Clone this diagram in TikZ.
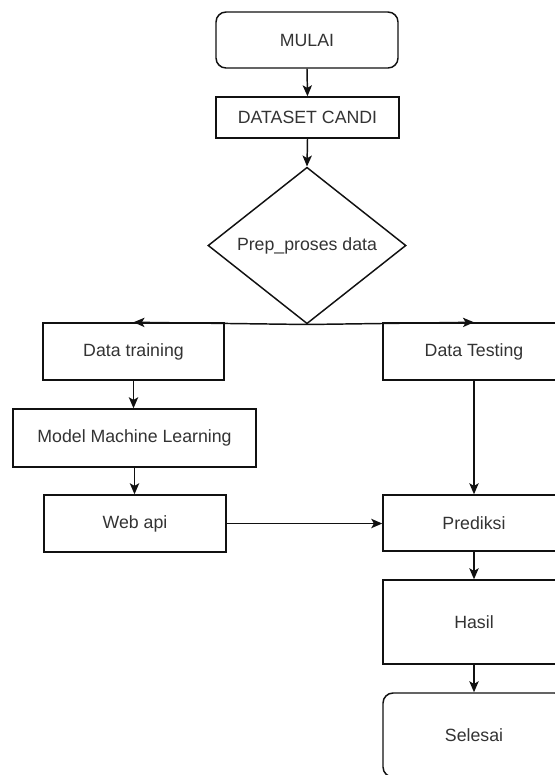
\documentclass[tikz,border=0pt]{standalone}
\usepackage{fontspec}
\setmainfont{Liberation Sans}
\usetikzlibrary{shapes.geometric,arrows.meta}
\definecolor{labelgray}{HTML}{333333}
\definecolor{edgeblack}{HTML}{111111}
\tikzset{
  base/.style={draw=edgeblack, line width=1.1pt, fill=white, text=labelgray,
    font=\fontsize{13.3}{16}\selectfont, inner sep=0pt, align=center},
  procbox/.style={base, rectangle},
  termbox/.style={base, rectangle, rounded corners=7.5pt},
  decbox/.style={base, diamond},
  arr/.style={draw=edgeblack, line width=1.1pt,
    -{Stealth[length=8.25pt, width=7pt, inset=2pt]}},
}
\begin{document}
\begin{tikzpicture}[x=0.75pt, y=-0.75pt]
  % page area, 555 x 775 units
  \fill[white] (0,0) rectangle (555,775);
  \clip (0,0) rectangle (555,775);

  % top of the chart
  \node[termbox, minimum width=136.5pt, minimum height=42pt] (mulai) at (307,40) {MULAI};
  \node[procbox, minimum width=137.25pt, minimum height=30.75pt] (dataset) at (307.5,117.5) {DATASET CANDI};
  \node[decbox, minimum width=148.5pt, minimum height=116.25pt] (prep) at (307,245.5) {Prep\_proses data};

  % left branch
  \node[procbox, minimum width=135.75pt, minimum height=42.75pt] (train) at (133.5,351.5) {Data training};
  \node[procbox, minimum width=182.25pt, minimum height=43.5pt] (model) at (134.5,438) {Model Machine Learning};
  \node[procbox, minimum width=136.5pt, minimum height=42.75pt] (web) at (135,523.5) {Web api};

  % right branch
  \node[procbox, minimum width=136.5pt, minimum height=42.75pt] (test) at (474,351.5) {Data Testing};
  \node[procbox, minimum width=136.5pt, minimum height=42pt] (pred) at (474,523) {Prediksi};
  \node[procbox, minimum width=136.5pt, minimum height=63pt] (hasil) at (474,622) {Hasil};
  \node[termbox, minimum width=136.5pt, minimum height=63pt] (selesai) at (474,735) {Selesai};

  % connectors
  \draw[arr] (mulai.south) -- (dataset.north);
  \draw[arr] (dataset.south) -- (prep.north);
  \draw[arr] (prep.south) -- (train.north);
  \draw[arr] (prep.south) -- (test.north);
  \draw[arr] (train.south) -- (train.south |- model.north);
  \draw[arr] (model.south) -- (model.south |- web.north);
  \draw[arr] (web.east) -- (web.east -| pred.west);
  \draw[arr] (test.south) -- (pred.north);
  \draw[arr] (pred.south) -- (hasil.north);
  \draw[arr] (hasil.south) -- (selesai.north);
\end{tikzpicture}
\end{document}
